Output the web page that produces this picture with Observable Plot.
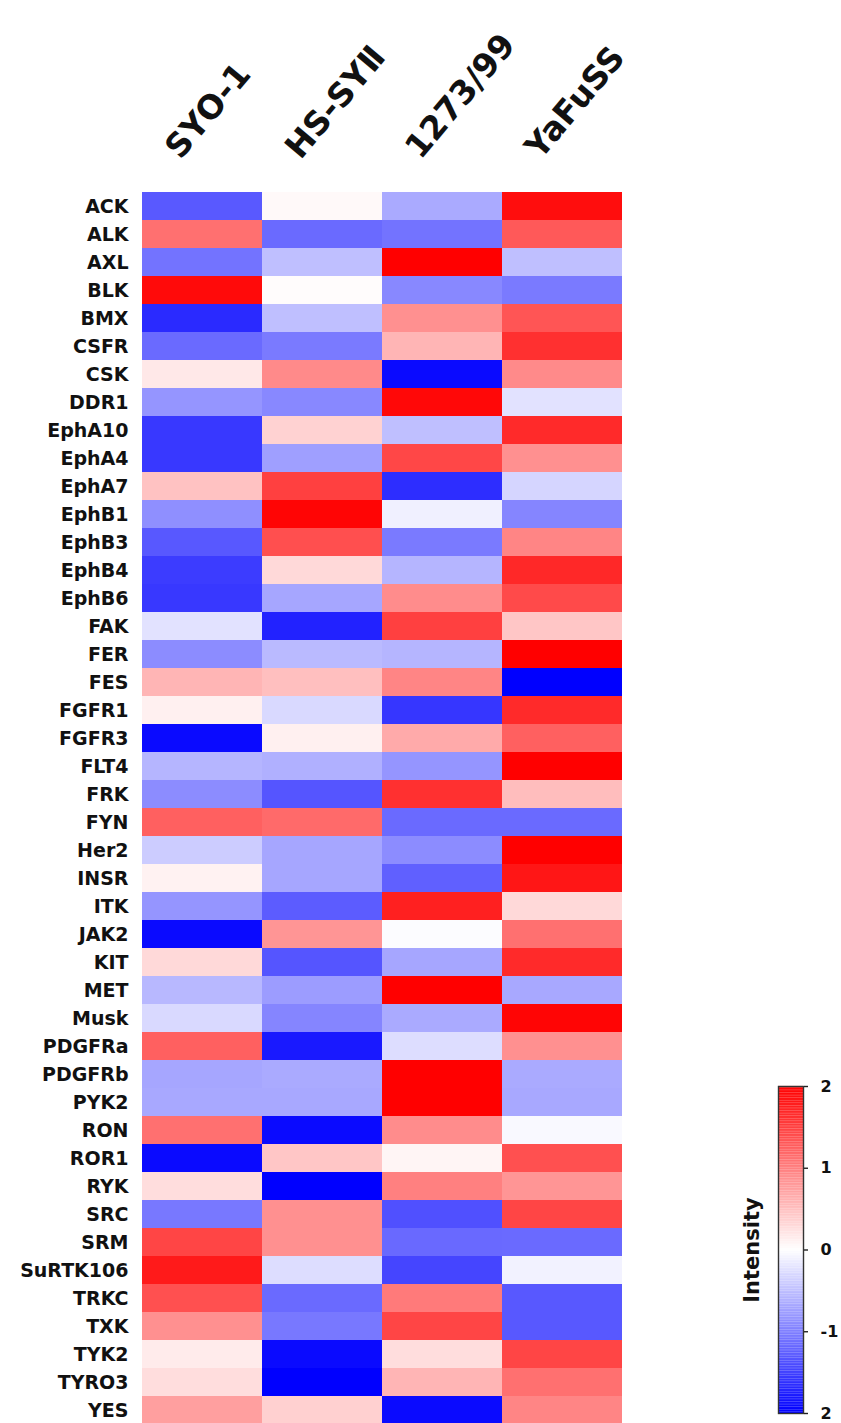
<!DOCTYPE html>
<html>
<head>
<meta charset="utf-8">
<script src="https://cdn.jsdelivr.net/npm/d3@7"></script>
<script src="https://cdn.jsdelivr.net/npm/@observablehq/plot@0.6"></script>
<style>
  html, body { margin: 0; padding: 0; background: #fff; overflow: hidden; }
  #wrap { position: relative; width: 841px; height: 1423px; overflow: hidden; }
  #main, #bar { position: absolute; }
  #main { left: 0; top: 0; }
  #bar { left: 700px; top: 1060px; }
</style>
</head>
<body>
<div id="wrap"><div id="main"></div><div id="bar"></div></div>
<script>
const genes = ["ACK","ALK","AXL","BLK","BMX","CSFR","CSK","DDR1","EphA10","EphA4",
  "EphA7","EphB1","EphB3","EphB4","EphB6","FAK","FER","FES","FGFR1","FGFR3",
  "FLT4","FRK","FYN","Her2","INSR","ITK","JAK2","KIT","MET","Musk",
  "PDGFRa","PDGFRb","PYK2","RON","ROR1","RYK","SRC","SRM","SuRTK106","TRKC",
  "TXK","TYK2","TYRO3","YES"];
const cellLines = ["SYO-1", "HS-SYⅡ", "1273/99", "YaFuSS"];

const valuesSYO1 = [-1.3, 1.12, -1.1, 1.92, -1.67, -1.17, 0.18, -0.83, -1.56, -1.56,
  0.48, -0.88, -1.31, -1.53, -1.56, -0.23, -0.9, 0.58, 0.12, -1.92,
  -0.58, -0.9, 1.25, -0.4, 0.1, -0.83, -1.92, 0.3, -0.56, -0.3,
  1.25, -0.7, -0.68, 1.12, -1.92, 0.27, -1.06, 1.46, 1.8, 1.37,
  0.87, 0.16, 0.27, 0.75];
const valuesHSSY2 = [0.05, -1.17, -0.5, 0.02, -0.5, -1.04, 0.92, -0.93, 0.35, -0.75,
  1.5, 1.96, 1.38, 0.3, -0.7, -1.73, -0.54, 0.5, -0.3, 0.12,
  -0.62, -1.33, 1.17, -0.7, -0.7, -1.28, 0.83, -1.33, -0.78, -0.96,
  -1.8, -0.67, -0.68, -1.92, 0.45, -2, 0.87, 0.87, -0.27, -1.17,
  -1.06, -1.92, -2, 0.37];
const values127399 = [-0.67, -1.1, 2, -0.93, 0.87, 0.58, -1.92, 1.94, -0.5, 1.44,
  -1.65, -0.12, -1.04, -0.58, 0.9, 1.5, -0.58, 0.96, -1.58, 0.67,
  -0.83, 1.62, -1.17, -0.9, -1.25, 1.75, -0.02, -0.7, 2, -0.67,
  -0.27, 2, 2, 0.9, 0.08, 1, -1.37, -1.18, -1.46, 1.04,
  1.46, 0.27, 0.58, -1.92];
const valuesYaFuSS = [1.9, 1.3, -0.5, -1.04, 1.33, 1.62, 0.92, -0.23, 1.67, 0.87,
  -0.33, -0.96, 0.96, 1.69, 1.42, 0.45, 2, -2, 1.67, 1.25,
  2, 0.52, -1.17, 2, 1.83, 0.3, 1.12, 1.67, -0.68, 1.96,
  0.87, -0.67, -0.68, -0.05, 1.37, 0.83, 1.46, -1.17, -0.1, -1.31,
  -1.31, 1.46, 1.12, 0.96];

const legendTicks = [2, 1, 0, -1, -2];
const legendTickLabels = ["2", "1", "0", "-1", "2"];
const legendTitle = "Intensity";

const series = [valuesSYO1, valuesHSSY2, values127399, valuesYaFuSS];
const table = [];
cellLines.forEach((c, j) => genes.forEach((g, i) => table.push({cell: c, gene: g, value: series[j][i]})));

const colorOpts = {type: "linear", domain: [-2, 0, 2], range: ["#0000ff", "#ffffff", "#ff0000"], interpolate: "rgb", clamp: true};
const FONT = "'DejaVu Sans', 'Liberation Sans', Arial, sans-serif";

const main = Plot.plot({
  width: 841,
  height: 1426,
  marginLeft: 141,
  marginRight: 219,
  marginTop: 190,
  marginBottom: 0,
  style: {fontFamily: FONT, background: "white"},
  x: {domain: cellLines, padding: 0, axis: null},
  y: {domain: genes, padding: 0, axis: null},
  color: colorOpts,
  marks: [
    Plot.cell(table, {x: "cell", y: "gene", fill: "value", inset: 0, shapeRendering: "crispEdges"}),
    Plot.axisY({label: null, tickSize: 0, tickPadding: 13, fontSize: 19, fontWeight: "bold", fill: "#111"}),
    Plot.text(cellLines, {x: d => d, frameAnchor: "top", dx: -22, dy: -30, rotate: -50,
      textAnchor: "start", lineAnchor: "bottom", fontSize: 33, fontWeight: "bold", fill: "#111",
      fontFamily: "'DejaVu Sans', 'Noto Sans CJK JP', sans-serif"})
  ]
});
document.getElementById("main").appendChild(main);

const step = 0.02;
const grad = d3.range(-2, 2, step);
const bar = Plot.plot({
  width: 141,
  height: 363,
  marginLeft: 78,
  marginRight: 38,
  marginTop: 26,
  marginBottom: 10,
  style: {fontFamily: FONT, background: "transparent", overflow: "visible"},
  x: {domain: [0, 1], axis: null},
  y: {domain: [-2, 2], axis: null},
  color: colorOpts,
  marks: [
    Plot.rect(grad, {x1: 0, x2: 1, y1: d => d, y2: d => d + step * 1.05, fill: d => d + step / 2}),
    Plot.frame({stroke: "#333", strokeWidth: 1.4}),
    Plot.axisY({anchor: "right", label: null, ticks: legendTicks, tickFormat: (d) => legendTickLabels[legendTicks.indexOf(d)],
      tickSize: 4, tickPadding: 13, fontSize: 16, fontWeight: "bold", stroke: "#222", strokeWidth: 1.4, fill: "#111"}),
    Plot.text([legendTitle], {frameAnchor: "left", dx: -26, rotate: -90, textAnchor: "middle", lineAnchor: "middle",
      fontSize: 21, fontWeight: "bold", fill: "#111"})
  ]
});
document.getElementById("bar").appendChild(bar);
</script>
</body>
</html>
